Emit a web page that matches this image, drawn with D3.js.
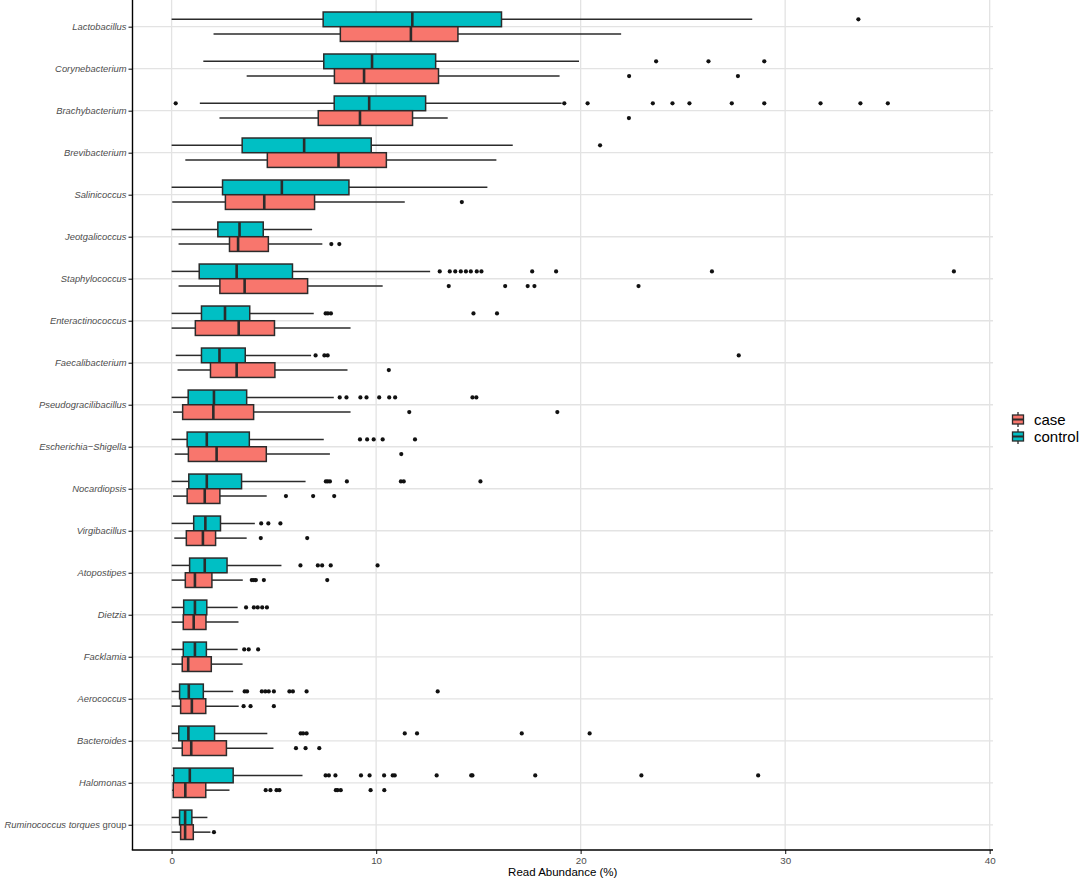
<!DOCTYPE html>
<html lang="en">
  <head>
    <meta charset="utf-8">
    <title>Read Abundance by Genus</title>
    <script src="https://d3js.org/d3.v7.js"></script>
    <style>
      body {margin: 0; background: white;}
      svg text {font-family: "Liberation Sans", Arial, sans-serif;}
    </style>
  </head>
  <body>
  <script>

  // genera, top to bottom
  var categories = ["Lactobacillus", "Corynebacterium", "Brachybacterium", "Brevibacterium",
    "Salinicoccus", "Jeotgalicoccus", "Staphylococcus", "Enteractinococcus", "Faecalibacterium",
    "Pseudogracilibacillus", "Escherichia\u2212Shigella", "Nocardiopsis", "Virgibacillus",
    "Atopostipes", "Dietzia", "Facklamia", "Aerococcus", "Bacteroides", "Halomonas",
    "Ruminococcus torques group"];

  // [lower whisker, Q1, median, Q3, upper whisker]
  var controlStats = [
    [0, 7.41, 11.77, 16.13, 28.39], [1.55, 7.44, 9.80, 12.91, 19.92], [1.38, 7.95, 9.66, 12.42, 19.07],
    [0, 3.45, 6.48, 9.76, 16.68], [0, 2.49, 5.39, 8.67, 15.44], [0, 2.26, 3.32, 4.48, 6.87],
    [0, 1.35, 3.18, 5.91, 12.64], [0, 1.46, 2.61, 3.82, 6.95], [0.2, 1.46, 2.34, 3.6, 6.82],
    [0, 0.81, 2.07, 3.67, 7.93], [0, 0.76, 1.72, 3.8, 7.44], [0, 0.84, 1.72, 3.42, 6.55],
    [0, 1.08, 1.65, 2.39, 4.07], [0, 0.88, 1.62, 2.71, 5.37], [0, 0.59, 1.14, 1.72, 3.23],
    [0, 0.57, 1.14, 1.7, 3.23], [0, 0.39, 0.84, 1.55, 3.01], [0, 0.35, 0.82, 2.1, 4.68],
    [0, 0.1, 0.89, 3.01, 6.4], [0, 0.39, 0.66, 0.99, 1.75]
  ];
  var caseStats = [
    [2.05, 8.25, 11.70, 14.0, 21.98], [3.67, 7.96, 9.41, 13.05, 18.97], [2.34, 7.17, 9.21, 11.78, 13.5],
    [0.67, 4.68, 8.16, 10.5, 15.88], [0.03, 2.63, 4.53, 6.99, 11.40], [0.34, 2.83, 3.25, 4.73, 7.37],
    [0.34, 2.36, 3.57, 6.65, 10.32], [0, 1.16, 3.28, 5.03, 8.75], [0.29, 1.9, 3.18, 5.05, 8.6],
    [0.07, 0.54, 2.04, 4.01, 8.75], [0.15, 0.82, 2.2, 4.63, 7.74], [0.07, 0.76, 1.62, 2.36, 4.65],
    [0.13, 0.72, 1.53, 2.15, 3.67], [0, 0.67, 1.14, 1.97, 3.48], [0, 0.57, 1.08, 1.68, 3.27],
    [0, 0.52, 0.81, 1.94, 3.47], [0, 0.44, 0.99, 1.67, 3.28], [0.03, 0.52, 0.96, 2.68, 4.98],
    [0.03, 0.08, 0.67, 1.67, 2.83], [0, 0.44, 0.66, 1.06, 1.9]
  ];

  var controlOutliers = [
    [33.58],
    [23.69, 26.25, 28.98],
    [0.2, 19.2, 20.34, 23.53, 24.49, 25.32, 27.39, 28.98, 31.73, 33.68, 35.02],
    [20.95],
    [],
    [],
    [13.11, 13.6, 13.87, 14.14, 14.39, 14.63, 14.92, 15.15, 17.63, 18.8, 26.42, 38.25],
    [7.53, 7.64, 7.79, 14.76, 15.91],
    [7.04, 7.47, 7.63, 27.73],
    [8.22, 8.55, 9.23, 9.53, 10.15, 10.64, 10.93, 14.71, 14.9],
    [9.21, 9.56, 9.88, 10.32, 11.9],
    [7.54, 7.63, 7.74, 8.57, 11.21, 11.35, 15.1],
    [4.38, 4.73, 5.32],
    [6.3, 7.15, 7.36, 7.78, 10.07],
    [3.64, 4.02, 4.21, 4.43, 4.66],
    [3.55, 3.77, 4.23],
    [3.57, 3.69, 4.41, 4.58, 4.75, 5.0, 5.76, 5.93, 6.6, 13.01],
    [6.31, 6.43, 6.6, 11.4, 12.0, 17.12, 20.44],
    [7.53, 7.69, 8.01, 9.26, 9.68, 10.39, 10.81, 10.91, 12.96, 14.65, 14.71, 17.78, 22.97, 28.68],
    []
  ];
  var caseOutliers = [
    [],
    [22.37, 27.69],
    [22.36],
    [],
    [14.19],
    [7.81, 8.2],
    [13.55, 16.31, 17.41, 17.74, 22.83],
    [],
    [10.62],
    [11.62, 18.86],
    [11.23],
    [5.59, 6.92, 7.95],
    [4.36, 6.63],
    [3.92, 4.02, 4.12, 4.51, 7.61],
    [],
    [],
    [3.52, 3.86, 5.0],
    [6.08, 6.55, 7.22],
    [4.6, 4.83, 5.13, 5.27, 8.03, 8.11, 8.27, 9.73, 10.4],
    [2.07]
  ];

  var xTicks = [0, 10, 20, 30, 40];
  var groups = ["case", "control"];
  var groupColors = ["#F8766D", "#00BFC4"];

  // layout
  var w = 1084, h = 879;
  var panel = {left: 132.5, right: 993, top: 1.5, bottom: 850};
  var lineCol = "#2b2b2b";

  var svg = d3.select("body")
    .append("svg")
      .attr("width", w)
      .attr("height", h);

  // x domain = data range with 5% expansion on both sides
  var allVals = [];
  controlStats.forEach(d => allVals.push(...d));
  caseStats.forEach(d => allVals.push(...d));
  controlOutliers.forEach(d => allVals.push(...d));
  caseOutliers.forEach(d => allVals.push(...d));
  var ext = d3.extent(allVals);
  var pad = (ext[1] - ext[0]) * 0.05;

  var xScale = d3.scaleLinear()
    .domain([ext[0] - pad, ext[1] + pad])
    .range([panel.left, panel.right]);

  var yScale = d3.scalePoint()
    .domain(categories)
    .range([panel.top, panel.bottom])
    .padding(0.6);

  var step = yScale.step();
  var boxH = step * 0.35;

  // grid
  svg.append("g")
    .selectAll("line")
    .data(xTicks)
    .join("line")
      .attr("x1", d => xScale(d)).attr("x2", d => xScale(d))
      .attr("y1", panel.top - 1.5).attr("y2", panel.bottom)
      .attr("stroke", "#e3e3e3")
      .attr("stroke-width", 1.3);

  svg.append("g")
    .selectAll("line")
    .data(categories)
    .join("line")
      .attr("x1", panel.left).attr("x2", panel.right)
      .attr("y1", d => yScale(d)).attr("y2", d => yScale(d))
      .attr("stroke", "#e3e3e3")
      .attr("stroke-width", 1.3);

  // boxes: control sits above the category line, case below
  function drawGroup(stats, outliers, color, offset) {
    var g = svg.append("g");
    var rows = categories.map((c, i) => ({cat: c, s: stats[i], out: outliers[i]}));
    var cy = d => yScale(d.cat) + offset * boxH + boxH / 2;

    g.selectAll(".whisker-lo")
      .data(rows)
      .join("line")
        .attr("x1", d => xScale(d.s[0])).attr("x2", d => xScale(d.s[1]))
        .attr("y1", cy).attr("y2", cy)
        .attr("stroke", lineCol).attr("stroke-width", 1.5);
    g.selectAll(".whisker-hi")
      .data(rows)
      .join("line")
        .attr("x1", d => xScale(d.s[3])).attr("x2", d => xScale(d.s[4]))
        .attr("y1", cy).attr("y2", cy)
        .attr("stroke", lineCol).attr("stroke-width", 1.5);

    g.selectAll("rect")
      .data(rows)
      .join("rect")
        .attr("x", d => xScale(d.s[1]))
        .attr("y", d => yScale(d.cat) + offset * boxH)
        .attr("width", d => xScale(d.s[3]) - xScale(d.s[1]))
        .attr("height", boxH)
        .attr("fill", color)
        .attr("stroke", lineCol)
        .attr("stroke-width", 1.5);

    g.selectAll(".median")
      .data(rows)
      .join("line")
        .attr("x1", d => xScale(d.s[2])).attr("x2", d => xScale(d.s[2]))
        .attr("y1", d => yScale(d.cat) + offset * boxH)
        .attr("y2", d => yScale(d.cat) + offset * boxH + boxH)
        .attr("stroke", lineCol).attr("stroke-width", 2.6);

    var pts = [];
    rows.forEach(r => r.out.forEach(v => pts.push({cat: r.cat, v: v})));
    g.selectAll("circle")
      .data(pts)
      .join("circle")
        .attr("cx", d => xScale(d.v))
        .attr("cy", cy)
        .attr("r", 2.1)
        .attr("fill", "#111");
  }

  drawGroup(controlStats, controlOutliers, groupColors[1], -1);
  drawGroup(caseStats, caseOutliers, groupColors[0], 0);

  // y axis
  var yAxis = svg.append("g")
    .attr("transform", `translate(${panel.left},0)`)
    .call(d3.axisLeft(yScale).tickSize(4).tickPadding(3).tickFormat(""));
  yAxis.select(".domain").remove();
  yAxis.selectAll(".tick line").attr("stroke", "#333").attr("stroke-width", 1.2);
  svg.append("line")
    .attr("x1", panel.left).attr("x2", panel.left)
    .attr("y1", 0).attr("y2", panel.bottom)
    .attr("stroke", "black").attr("stroke-width", 1.4);

  svg.append("g")
    .selectAll("text")
    .data(categories)
    .join("text")
      .attr("x", panel.left - 6)
      .attr("y", d => yScale(d))
      .attr("dy", "0.35em")
      .attr("text-anchor", "end")
      .style("font-size", "9.4px")
      .attr("fill", "#4d4d4d")
      .each(function(d) {
        var t = d3.select(this);
        if (d.endsWith(" group")) {
          t.append("tspan").style("font-style", "italic").text(d.replace(" group", ""));
          t.append("tspan").text(" group");
        } else {
          t.style("font-style", "italic").text(d);
        }
      });

  // x axis
  var xAxis = svg.append("g")
    .attr("transform", `translate(0,${panel.bottom})`)
    .call(d3.axisBottom(xScale).tickValues(xTicks).tickSize(4).tickPadding(3));
  xAxis.select(".domain").remove();
  xAxis.selectAll(".tick line").attr("stroke", "#333").attr("stroke-width", 1.2);
  xAxis.selectAll(".tick text")
    .style("font-size", "9.8px")
    .style("font-family", "'Liberation Sans', Arial, sans-serif")
    .attr("fill", "#4d4d4d");
  svg.append("line")
    .attr("x1", panel.left - 0.7).attr("x2", panel.right)
    .attr("y1", panel.bottom).attr("y2", panel.bottom)
    .attr("stroke", "black").attr("stroke-width", 1.4);

  svg.append("text")
    .attr("x", (panel.left + panel.right) / 2)
    .attr("y", 876)
    .attr("text-anchor", "middle")
    .style("font-size", "11.5px")
    .text("Read Abundance (%)");

  // legend
  var legend = svg.append("g").attr("transform", "translate(1010,411)");
  groups.forEach(function(name, i) {
    var key = legend.append("g").attr("transform", `translate(0,${i * 17})`);
    key.append("line")
      .attr("x1", 8).attr("x2", 8).attr("y1", 1).attr("y2", 16)
      .attr("stroke", lineCol).attr("stroke-width", 1.3);
    key.append("rect")
      .attr("x", 2.5).attr("y", 4).attr("width", 11).attr("height", 9)
      .attr("fill", groupColors[i]).attr("stroke", lineCol).attr("stroke-width", 1.3);
    key.append("line")
      .attr("x1", 2.5).attr("x2", 13.5).attr("y1", 8.5).attr("y2", 8.5)
      .attr("stroke", lineCol).attr("stroke-width", 2);
    key.append("text")
      .attr("x", 24).attr("y", 8.5).attr("dy", "0.35em")
      .style("font-size", "15px")
      .text(name);
  });

  </script>
  </body>
</html>
